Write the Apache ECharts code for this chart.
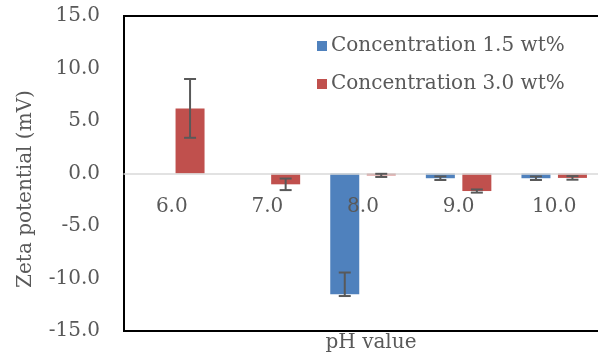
<!DOCTYPE html>
<html>
<head>
<meta charset="utf-8">
<script src="https://cdn.jsdelivr.net/npm/echarts@6/dist/echarts.min.js"></script>
<style>html,body{margin:0;padding:0;background:#fff}#c{width:598px;height:358px}</style>
</head>
<body>
<div id="c"></div>
<script>
// ---- data ----
var categories = ['6.0', '7.0', '8.0', '9.0', '10.0'];
var seriesNames = ['Concentration 1.5 wt%', 'Concentration 3.0 wt%'];
var conc15 = [0, 0, -11.5, -0.45, -0.45];
var conc15ErrPlus = [0, 0, 2.07, 0.17, 0.17];
var conc15ErrMinus = [0, 0, 0.17, 0.17, 0.17];
var conc30 = [6.2, -1.03, -0.18, -1.67, -0.42];
var conc30ErrPlus = [2.8, 0.55, 0.15, 0.15, 0.17];
var conc30ErrMinus = [2.8, 0.55, 0.15, 0.15, 0.17];
var yTicks = [-15, -10, -5, 0, 5, 10, 15];

// ---- style ----
var FONT = 'DejaVu Serif';
var GRAY = '#595959';
var BLUE = '#4F81BD';
var RED = '#C0504D';
var BAR_W = 29;
var BAR_GAP_PX = 7.5;
var OFFSET = BAR_W / 2 + BAR_GAP_PX / 2;

function errData(vals, plus, minus) {
  var out = [];
  for (var i = 0; i < vals.length; i++) {
    if (plus[i] === 0 && minus[i] === 0) continue;
    out.push([i, vals[i] - minus[i], vals[i] + plus[i]]);
  }
  return out;
}

function errRender(offset) {
  return function (params, api) {
    var x = api.value(0);
    var lo = api.coord([x, api.value(1)]);
    var hi = api.coord([x, api.value(2)]);
    var cx = lo[0] + offset;
    var cap = 6;
    var st = { stroke: GRAY, lineWidth: 2 };
    return {
      type: 'group',
      children: [
        { type: 'line', shape: { x1: cx, y1: hi[1], x2: cx, y2: lo[1] }, style: st },
        { type: 'line', shape: { x1: cx - cap, y1: hi[1], x2: cx + cap, y2: hi[1] }, style: st },
        { type: 'line', shape: { x1: cx - cap, y1: lo[1], x2: cx + cap, y2: lo[1] }, style: st }
      ]
    };
  };
}

var chart = echarts.init(document.getElementById('c'), null, { renderer: 'canvas' });
chart.setOption({
  animation: false,
  textStyle: { fontFamily: FONT },
  grid: { left: 124, top: 16, width: 478, height: 315, outerBoundsMode: 'none', containLabel: false, show: true, borderColor: '#000', borderWidth: 2, backgroundColor: 'transparent' },
  legend: {
    orient: 'vertical',
    left: 312,
    top: 31,
    itemWidth: 10,
    itemHeight: 10,
    itemGap: 18,
    icon: 'rect',
    data: seriesNames,
    textStyle: { fontFamily: FONT, fontSize: 20, color: GRAY, padding: [0, 0, 0, -1] }
  },
  xAxis: {
    type: 'category',
    data: categories,
    z: 4,
    axisLine: { onZero: true, lineStyle: { color: '#D9D9D9', width: 1.5 } },
    axisTick: { show: false },
    axisLabel: { fontFamily: FONT, fontSize: 20, color: GRAY, margin: -134 }
  },
  yAxis: {
    type: 'value',
    min: yTicks[0],
    max: yTicks[yTicks.length - 1],
    interval: 5,
    axisLine: { show: false },
    axisTick: { show: false },
    splitLine: { show: false },
    axisLabel: { fontFamily: FONT, fontSize: 20, color: GRAY, margin: 24, formatter: function (v) { return v.toFixed(1); } }
  },
  graphic: [
    { type: 'text', x: 26, y: 189, rotation: Math.PI / 2, style: { text: 'Zeta potential (mV)', font: '20px "' + FONT + '"', fill: GRAY, align: 'center', verticalAlign: 'middle' } },
    { type: 'text', x: 371, y: 343, style: { text: 'pH value', font: '20px "' + FONT + '"', fill: GRAY, align: 'center', verticalAlign: 'middle' } }
  ],
  series: [
    { name: seriesNames[0], type: 'bar', data: conc15, barWidth: BAR_W, barGap: (BAR_GAP_PX / BAR_W * 100) + '%', itemStyle: { color: BLUE } },
    { name: seriesNames[1], type: 'bar', data: conc30, barWidth: BAR_W, itemStyle: { color: RED } },
    { type: 'custom', data: errData(conc15, conc15ErrPlus, conc15ErrMinus), renderItem: errRender(-OFFSET), z: 5 },
    { type: 'custom', data: errData(conc30, conc30ErrPlus, conc30ErrMinus), renderItem: errRender(OFFSET), z: 5 }
  ]
});
</script>
</body>
</html>
